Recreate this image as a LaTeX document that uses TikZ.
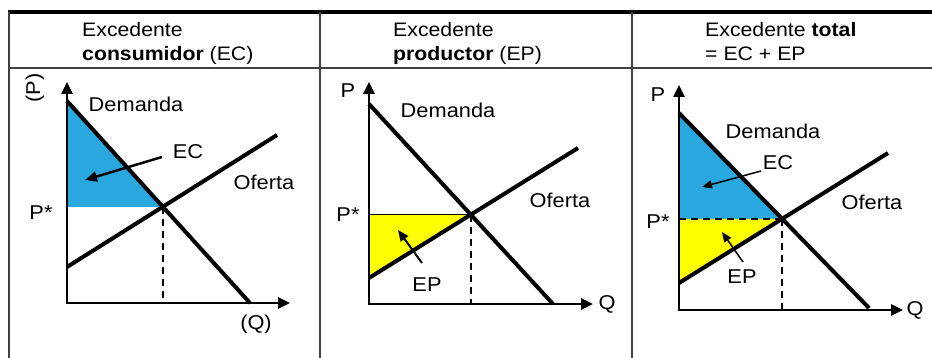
\documentclass[tikz,border=0pt]{standalone}
\usepackage{fontspec}
\setmainfont{Liberation Sans}[FakeStretch=1.09]
\usetikzlibrary{arrows.meta}
\definecolor{ecblue}{RGB}{41,168,224}
\definecolor{epyellow}{RGB}{255,255,0}
\begin{document}
\begin{tikzpicture}[x=1pt,y=-1pt,
  lbl/.style={inner sep=0pt,font=\fontsize{20}{24}\selectfont},
  hdr/.style={inner sep=0pt,anchor=base west,font=\fontsize{19.5}{24}\selectfont},
  axis/.style={line width=2.5pt,{Triangle[length=12pt,width=11pt]}-{Triangle[length=12pt,width=11pt]}},
  curve/.style={line width=4pt},
  guide/.style={line width=2pt,dash pattern=on 7pt off 5pt},
  gridline/.style={line width=1.5pt,draw=black!75},
  bigarrow/.style={line width=2.5pt,-{Triangle[length=12pt,width=10pt]}},
  smallarrow/.style={line width=1.5pt,-{Triangle[length=10pt,width=8pt]}}]
\useasboundingbox (0,0) rectangle (932,358);
% table
\draw[line width=4pt] (8,12.5) -- (932,12.5);
\draw[gridline] (8,68) -- (932,68);
\draw[gridline] (9,12) -- (9,358);
\draw[gridline] (320,12) -- (320,358);
\draw[gridline] (632,12) -- (632,358);
% headers
\node[hdr] (h1a) at (82,37) {Excedente};
\node[hdr] (h1b) at (82,61) {\textbf{consumidor} (EC)};
\node[hdr] (h2a) at (393,37) {Excedente};
\node[hdr] (h2b) at (393,61) {\textbf{productor} (EP)};
\node[hdr] (h3a) at (705,37) {Excedente \textbf{total}};
\node[hdr] (h3b) at (705,61) {= EC + EP};

% ---------- panel 1
\coordinate (O1) at (67,303);
\coordinate (Y1) at (67,82);
\coordinate (X1) at (290,303);
\coordinate (D1a) at (67,101);
\coordinate (D1b) at (250,303);
\coordinate (S1a) at (67,267);
\coordinate (S1b) at (277,135);
\coordinate (E1) at (intersection of D1a--D1b and S1a--S1b);
\coordinate (P1) at (O1 |- E1);
\coordinate (Q1) at (E1 |- O1);
\fill[ecblue] (D1a) -- (E1) -- (P1) -- cycle;
\draw[guide] (E1) -- (Q1);
\draw[axis] (Y1) -- (O1) -- (X1);
\draw[curve] (D1a) -- (D1b);
\draw[curve] (S1a) -- (S1b);
\node[lbl,rotate=90] (p1) at (35,88) {(P)};
\node[lbl] (dem1) at (136,104) {Demanda};
\node[lbl] (ec1) at (188,152) {EC};
\node[lbl] (of1) at (264,182) {Oferta};
\node[lbl] (ps1) at (41,213) {P*};
\node[lbl] (q1) at (256,324) {(Q)};
\coordinate (ec1s) at (162,157);
\coordinate (ec1t) at (85,180);
\draw[bigarrow] (ec1s) -- (ec1t);

% ---------- panel 2
\coordinate (O2) at (369,304);
\coordinate (Y2) at (369,82);
\coordinate (X2) at (593,304);
\coordinate (D2a) at (369,104);
\coordinate (D2b) at (553,304);
\coordinate (S2a) at (369,278);
\coordinate (S2b) at (578,148);
\coordinate (E2) at (intersection of D2a--D2b and S2a--S2b);
\coordinate (P2) at (O2 |- E2);
\coordinate (Q2) at (E2 |- O2);
\fill[epyellow] (P2) -- (E2) -- (S2a) -- cycle;
\draw[line width=1pt] (P2) -- (E2);
\draw[guide] (E2) -- (Q2);
\draw[axis] (Y2) -- (O2) -- (X2);
\draw[curve] (D2a) -- (D2b);
\draw[curve] (S2a) -- (S2b);
\node[lbl] (p2) at (348,91) {P};
\node[lbl] (dem2) at (448,110) {Demanda};
\node[lbl] (of2) at (560,200) {Oferta};
\node[lbl] (ps2) at (348,215) {P*};
\node[lbl] (ep2) at (427,285) {EP};
\node[lbl] (q2) at (607,304) {Q};
\coordinate (ep2s) at (422,263);
\coordinate (ep2t) at (398,230);
\draw[line width=2pt,-{Triangle[length=11pt,width=9pt]}] (ep2s) -- (ep2t);

% ---------- panel 3
\coordinate (O3) at (679,310);
\coordinate (Y3) at (679,85);
\coordinate (X3) at (903,310);
\coordinate (D3a) at (679,113);
\coordinate (D3b) at (869,308);
\coordinate (S3a) at (679,283);
\coordinate (S3b) at (888,153);
\coordinate (E3) at (intersection of D3a--D3b and S3a--S3b);
\coordinate (P3) at (O3 |- E3);
\coordinate (Q3) at (E3 |- O3);
\fill[ecblue] (D3a) -- (E3) -- (P3) -- cycle;
\fill[epyellow] (P3) -- (E3) -- (S3a) -- cycle;
\draw[guide] (P3) -- (E3);
\draw[guide] (E3) -- (Q3);
\draw[axis] (Y3) -- (O3) -- (X3);
\draw[curve] (D3a) -- (D3b);
\draw[curve] (S3a) -- (S3b);
\node[lbl] (p3) at (658,95) {P};
\node[lbl] (dem3) at (773,131) {Demanda};
\node[lbl] (ec3) at (778,163) {EC};
\node[lbl] (of3) at (872,202) {Oferta};
\node[lbl] (ps3) at (658,222) {P*};
\node[lbl] (ep3) at (742,277) {EP};
\node[lbl] (q3) at (915,310) {Q};
\coordinate (ec3s) at (761,171);
\coordinate (ec3t) at (702,187);
\draw[smallarrow] (ec3s) -- (ec3t);
\coordinate (ep3s) at (743,262);
\coordinate (ep3t) at (722,232);
\draw[smallarrow] (ep3s) -- (ep3t);
\end{tikzpicture}
\end{document}
